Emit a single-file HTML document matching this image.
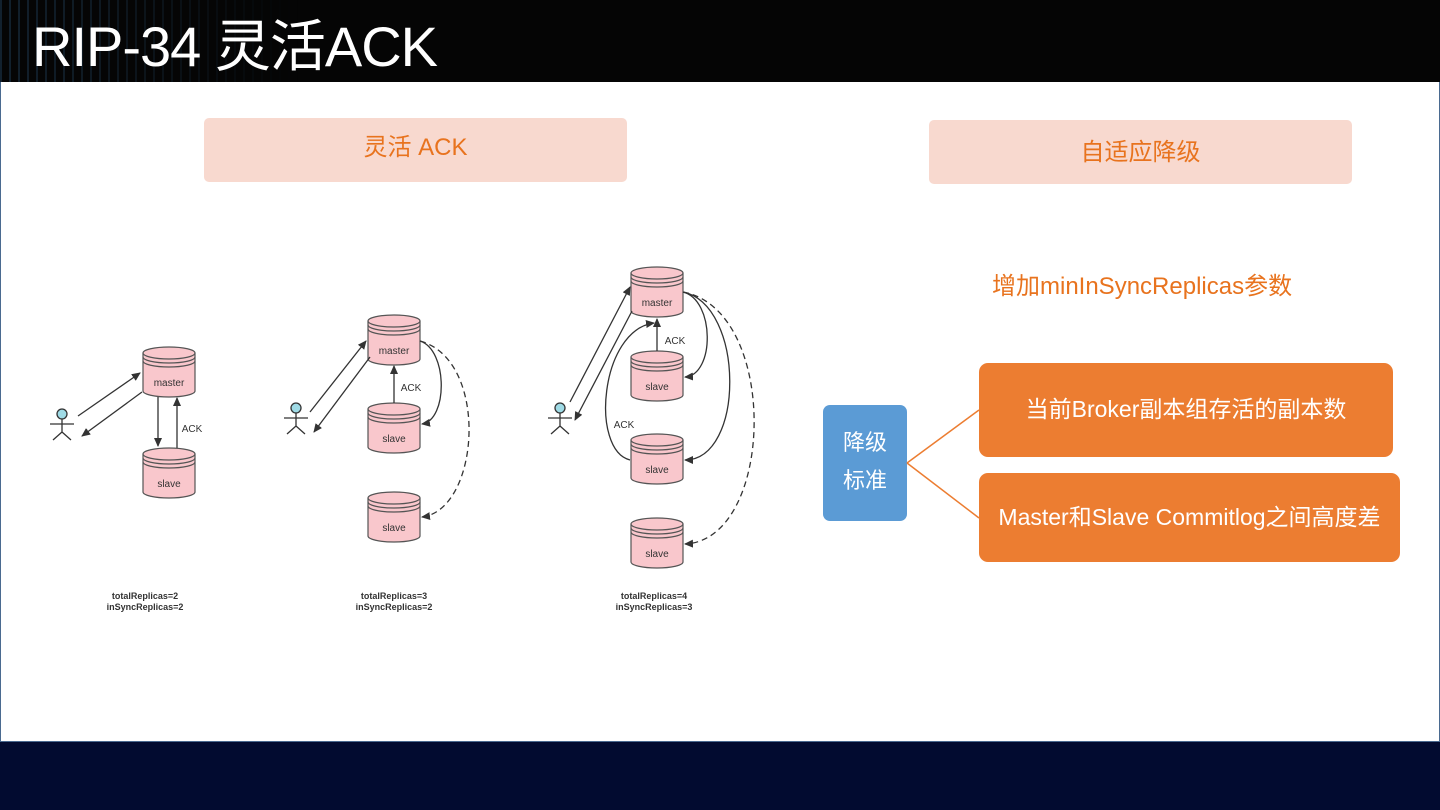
<!DOCTYPE html>
<html><head><meta charset="utf-8"><style>
html,body{margin:0;padding:0;width:1440px;height:810px;overflow:hidden;background:#020b30;font-family:"Liberation Sans","Noto Sans CJK SC",sans-serif}
.top{position:absolute;left:0;top:0;width:1440px;height:82px;background:#050505}
.dots{position:absolute;left:0;top:0;width:300px;height:82px;background:repeating-linear-gradient(90deg,rgba(60,120,170,.25) 0 2px,transparent 2px 9px);-webkit-mask:linear-gradient(90deg,#000,transparent);mask:linear-gradient(90deg,#000,transparent)}
.title{position:absolute;left:32px;top:12px;color:#fff;font-size:56px;line-height:70px;font-family:"Liberation Sans","Noto Sans CJK SC",sans-serif;font-weight:normal;letter-spacing:-1px}
.main{position:absolute;left:0;top:82px;width:1438px;height:659px;background:#fff;border:1px solid #4a6a90;border-top:none}
.hdr{position:absolute;background:#f8d9cf;border-radius:5px;color:#e8731e;font-size:24px;text-align:center}
.o{position:absolute;background:#ec7d31;border-radius:9px;color:#fff;font-size:23px;text-align:center}
</style></head><body>
<div class="top"><div class="dots"></div></div>
<div class="title">RIP-34 灵活ACK</div>
<div class="main"></div>
<div class="hdr" style="left:204px;top:118px;width:423px;height:64px;line-height:60px">灵活 ACK</div>
<div class="hdr" style="left:929px;top:120px;width:423px;height:64px;line-height:66px">自适应降级</div>
<div style="position:absolute;left:992px;top:266px;color:#e8731e;font-size:24px">增加minInSyncReplicas参数</div>
<div style="position:absolute;left:823px;top:405px;width:84px;height:116px;background:#5b9bd5;border-radius:7px;color:#fff;font-size:22px;text-align:center;line-height:38px;padding-top:19px;box-sizing:border-box">降级<br>标准</div>
<div class="o" style="left:979px;top:363px;width:414px;height:94px;line-height:92px">当前Broker副本组存活的副本数</div>
<div class="o" style="left:979px;top:473px;width:421px;height:89px;line-height:89px">Master和Slave Commitlog之间高度差</div>
<svg style="position:absolute;left:0;top:0" width="1440" height="810">
<defs>
<marker id="a" markerWidth="10" markerHeight="10" refX="8" refY="5" orient="auto" markerUnits="userSpaceOnUse"><path d="M0,1 L9,5 L0,9z" fill="#333"/></marker>
<g id="cyl">
<path d="M0,6 L0,44 A26,6 0 0 0 52,44 L52,6" fill="#f9c7cc" stroke="#555" stroke-width="1.2"/>
<ellipse cx="26" cy="6" rx="26" ry="6" fill="#f9c7cc" stroke="#555" stroke-width="1.2"/>
<path d="M0,10 A26,6 0 0 0 52,10 M0,14 A26,6 0 0 0 52,14" fill="none" stroke="#555" stroke-width="1.2"/>
</g>
<g id="man" stroke="#333" stroke-width="1.3" fill="none">
<circle cx="0" cy="-6" r="5" fill="#9fdbe6"/><path d="M0,-1 L0,12 M-12,4 L12,4 M0,12 L-9,20 M0,12 L9,20"/>
</g>
</defs>
<line x1="907" y1="463" x2="979" y2="410" stroke="#ec7d31" stroke-width="1.5"/>
<line x1="907" y1="463" x2="979" y2="518" stroke="#ec7d31" stroke-width="1.5"/>
<g font-size="10" fill="#333" font-family="Liberation Sans,sans-serif" text-anchor="middle">
<use href="#cyl" x="143" y="347"/><text x="169" y="386">master</text>
<use href="#cyl" x="143" y="448"/><text x="169" y="487">slave</text>
<use href="#man" x="62" y="420"/>
<g stroke="#333" stroke-width="1.3" fill="none" marker-end="url(#a)">
<line x1="78" y1="416" x2="140" y2="373"/>
<line x1="142" y1="392" x2="82" y2="436"/>
<line x1="158" y1="397" x2="158" y2="446"/>
<line x1="177" y1="448" x2="177" y2="398"/>
</g>
<text x="192" y="432">ACK</text>
<text x="145" y="599" font-size="9" font-weight="bold">totalReplicas=2</text>
<text x="145" y="610" font-size="9" font-weight="bold">inSyncReplicas=2</text>
<use href="#cyl" x="368" y="315"/><text x="394" y="354">master</text>
<use href="#cyl" x="368" y="403"/><text x="394" y="442">slave</text>
<use href="#cyl" x="368" y="492"/><text x="394" y="531">slave</text>
<use href="#man" x="296" y="414"/>
<g stroke="#333" stroke-width="1.3" fill="none" marker-end="url(#a)">
<line x1="310" y1="412" x2="366" y2="341"/>
<line x1="370" y1="357" x2="314" y2="432"/>
<line x1="394" y1="403" x2="394" y2="366"/>
<path d="M420,341 C448,350 448,420 422,424"/>
<path d="M420,341 C490,360 480,510 422,517" stroke-dasharray="6,4"/>
</g>
<text x="411" y="391">ACK</text>
<text x="394" y="599" font-size="9" font-weight="bold">totalReplicas=3</text>
<text x="394" y="610" font-size="9" font-weight="bold">inSyncReplicas=2</text>
<use href="#cyl" x="631" y="267"/><text x="657" y="306">master</text>
<use href="#cyl" x="631" y="351"/><text x="657" y="390">slave</text>
<use href="#cyl" x="631" y="434"/><text x="657" y="473">slave</text>
<use href="#cyl" x="631" y="518"/><text x="657" y="557">slave</text>
<use href="#man" x="560" y="414"/>
<g stroke="#333" stroke-width="1.3" fill="none" marker-end="url(#a)">
<line x1="570" y1="402" x2="630" y2="287"/>
<line x1="632" y1="311" x2="575" y2="420"/>
<line x1="657" y1="351" x2="657" y2="319"/>
<path d="M630,460 C590,450 600,330 654,323"/>
<path d="M683,292 C715,300 715,375 685,377"/>
<path d="M683,292 C745,305 745,460 685,460"/>
<path d="M683,292 C780,310 775,540 685,544" stroke-dasharray="6,4"/>
</g>
<text x="675" y="344">ACK</text>
<text x="624" y="428">ACK</text>
<text x="654" y="599" font-size="9" font-weight="bold">totalReplicas=4</text>
<text x="654" y="610" font-size="9" font-weight="bold">inSyncReplicas=3</text>
</g>
</svg>
</body></html>
